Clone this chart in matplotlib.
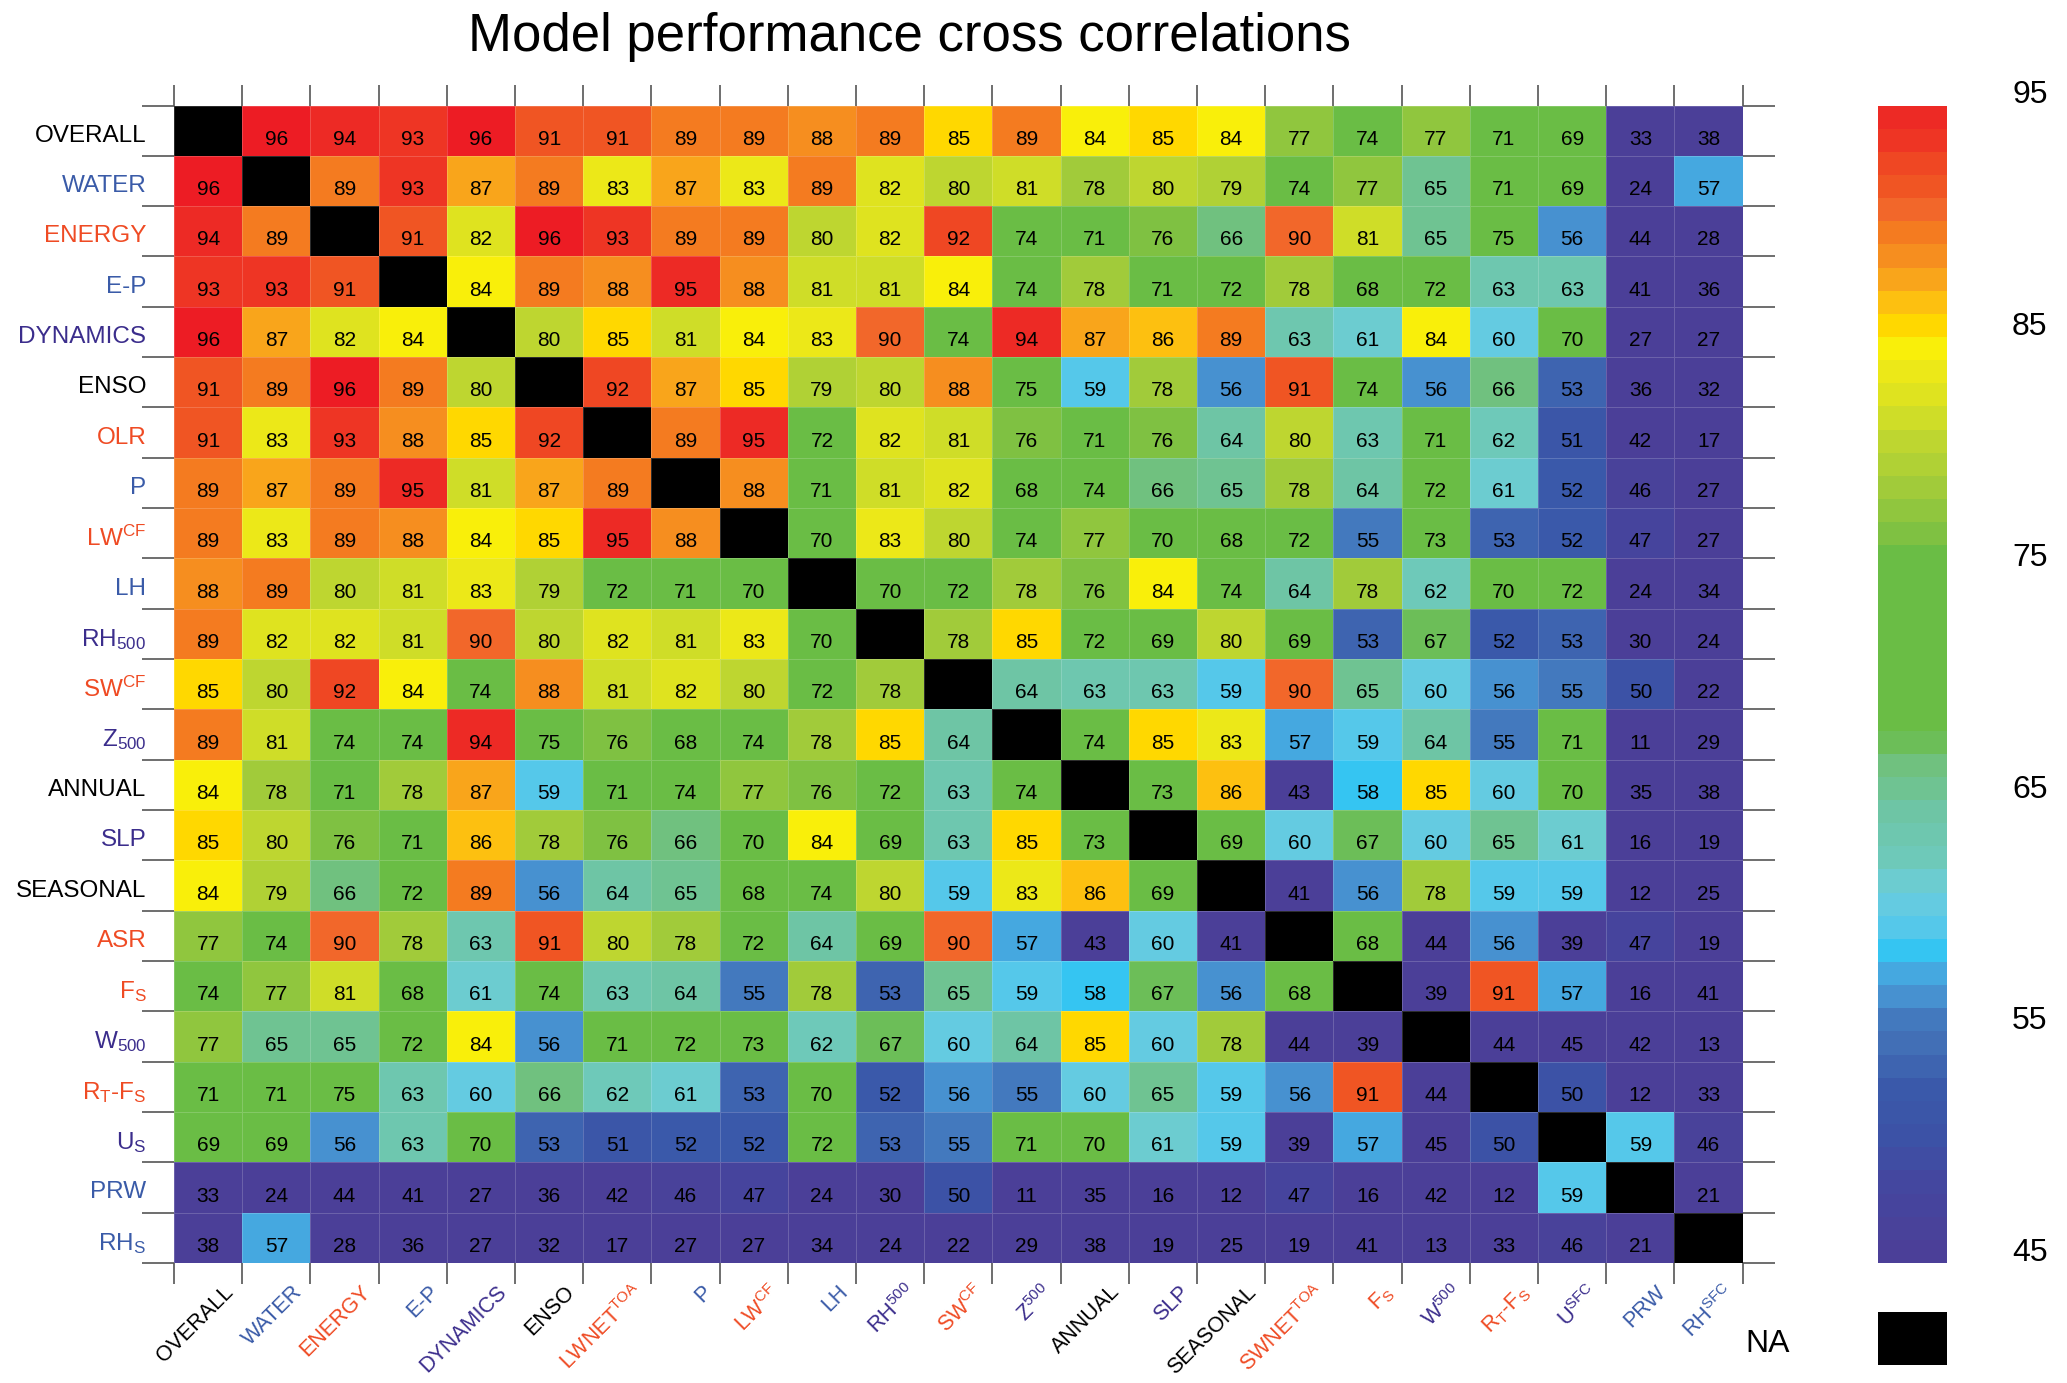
import numpy as np
import matplotlib.pyplot as plt
from matplotlib.colors import ListedColormap, Normalize, to_rgb
from matplotlib.cm import ScalarMappable
from matplotlib.patches import Rectangle
from matplotlib.transforms import blended_transform_factory

plt.rcParams['font.family'] = 'Liberation Sans'
plt.rcParams['mathtext.fontset'] = 'custom'
plt.rcParams['mathtext.rm'] = 'Liberation Sans'
plt.rcParams['mathtext.it'] = 'Liberation Sans:italic'
plt.rcParams['mathtext.bf'] = 'Liberation Sans:bold'

K, B, R, P = 'black', '#3a5ba8', '#ef4b24', '#3b2d8c'

row_labels = ['OVERALL', 'WATER', 'ENERGY', 'E-P', 'DYNAMICS', 'ENSO', 'OLR', 'P',
              r'LW$^{\mathrm{CF}}$', 'LH', r'RH$_{\mathrm{500}}$', r'SW$^{\mathrm{CF}}$',
              r'Z$_{\mathrm{500}}$', 'ANNUAL', 'SLP', 'SEASONAL', 'ASR', r'F$_{\mathrm{S}}$',
              r'W$_{\mathrm{500}}$', r'R$_{\mathrm{T}}$-F$_{\mathrm{S}}$', r'U$_{\mathrm{S}}$',
              'PRW', r'RH$_{\mathrm{S}}$']
col_labels = ['OVERALL', 'WATER', 'ENERGY', 'E-P', 'DYNAMICS', 'ENSO', r'LWNET$^{\mathrm{TOA}}$', 'P',
              r'LW$^{\mathrm{CF}}$', 'LH', r'RH$^{\mathrm{500}}$', r'SW$^{\mathrm{CF}}$',
              r'Z$^{\mathrm{500}}$', 'ANNUAL', 'SLP', 'SEASONAL', r'SWNET$^{\mathrm{TOA}}$',
              r'F$_{\mathrm{S}}$', r'W$^{\mathrm{500}}$', r'R$_{\mathrm{T}}$-F$_{\mathrm{S}}$',
              r'U$^{\mathrm{SFC}}$', 'PRW', r'RH$^{\mathrm{SFC}}$']
label_colors = [K, B, R, B, P, K, R, B, R, B, P, R, P, K, P, K, R, R, P, R, P, B, B]

NA = None
corr = [
    [NA, 96, 94, 93, 96, 91, 91, 89, 89, 88, 89, 85, 89, 84, 85, 84, 77, 74, 77, 71, 69, 33, 38],
    [96, NA, 89, 93, 87, 89, 83, 87, 83, 89, 82, 80, 81, 78, 80, 79, 74, 77, 65, 71, 69, 24, 57],
    [94, 89, NA, 91, 82, 96, 93, 89, 89, 80, 82, 92, 74, 71, 76, 66, 90, 81, 65, 75, 56, 44, 28],
    [93, 93, 91, NA, 84, 89, 88, 95, 88, 81, 81, 84, 74, 78, 71, 72, 78, 68, 72, 63, 63, 41, 36],
    [96, 87, 82, 84, NA, 80, 85, 81, 84, 83, 90, 74, 94, 87, 86, 89, 63, 61, 84, 60, 70, 27, 27],
    [91, 89, 96, 89, 80, NA, 92, 87, 85, 79, 80, 88, 75, 59, 78, 56, 91, 74, 56, 66, 53, 36, 32],
    [91, 83, 93, 88, 85, 92, NA, 89, 95, 72, 82, 81, 76, 71, 76, 64, 80, 63, 71, 62, 51, 42, 17],
    [89, 87, 89, 95, 81, 87, 89, NA, 88, 71, 81, 82, 68, 74, 66, 65, 78, 64, 72, 61, 52, 46, 27],
    [89, 83, 89, 88, 84, 85, 95, 88, NA, 70, 83, 80, 74, 77, 70, 68, 72, 55, 73, 53, 52, 47, 27],
    [88, 89, 80, 81, 83, 79, 72, 71, 70, NA, 70, 72, 78, 76, 84, 74, 64, 78, 62, 70, 72, 24, 34],
    [89, 82, 82, 81, 90, 80, 82, 81, 83, 70, NA, 78, 85, 72, 69, 80, 69, 53, 67, 52, 53, 30, 24],
    [85, 80, 92, 84, 74, 88, 81, 82, 80, 72, 78, NA, 64, 63, 63, 59, 90, 65, 60, 56, 55, 50, 22],
    [89, 81, 74, 74, 94, 75, 76, 68, 74, 78, 85, 64, NA, 74, 85, 83, 57, 59, 64, 55, 71, 11, 29],
    [84, 78, 71, 78, 87, 59, 71, 74, 77, 76, 72, 63, 74, NA, 73, 86, 43, 58, 85, 60, 70, 35, 38],
    [85, 80, 76, 71, 86, 78, 76, 66, 70, 84, 69, 63, 85, 73, NA, 69, 60, 67, 60, 65, 61, 16, 19],
    [84, 79, 66, 72, 89, 56, 64, 65, 68, 74, 80, 59, 83, 86, 69, NA, 41, 56, 78, 59, 59, 12, 25],
    [77, 74, 90, 78, 63, 91, 80, 78, 72, 64, 69, 90, 57, 43, 60, 41, NA, 68, 44, 56, 39, 47, 19],
    [74, 77, 81, 68, 61, 74, 63, 64, 55, 78, 53, 65, 59, 58, 67, 56, 68, NA, 39, 91, 57, 16, 41],
    [77, 65, 65, 72, 84, 56, 71, 72, 73, 62, 67, 60, 64, 85, 60, 78, 44, 39, NA, 44, 45, 42, 13],
    [71, 71, 75, 63, 60, 66, 62, 61, 53, 70, 52, 56, 55, 60, 65, 59, 56, 91, 44, NA, 50, 12, 33],
    [69, 69, 56, 63, 70, 53, 51, 52, 52, 72, 53, 55, 71, 70, 61, 59, 39, 57, 45, 50, NA, 59, 46],
    [33, 24, 44, 41, 27, 36, 42, 46, 47, 24, 30, 50, 11, 35, 16, 12, 47, 16, 42, 12, 59, NA, 21],
    [38, 57, 28, 36, 27, 32, 17, 27, 27, 34, 24, 22, 29, 38, 19, 25, 19, 41, 13, 33, 46, 21, NA],
]

# colour scale anchors (value -> colour)
cbar_levels = [45, 48, 50, 52, 54, 55.5, 56, 57, 57.8, 59, 60.5, 62, 64, 66, 67.5, 75, 76, 78,
               80, 82, 83.5, 84.5, 85, 86, 87, 88, 89, 90, 91, 92, 93, 94, 95]
cbar_colors = ['#4b3f98', '#44479f', '#3c52a6', '#3a59aa', '#426fb6', '#447ec2', '#4791d0',
               '#45a8e0', '#2ec4f4', '#55c8ea', '#6bcddc', '#6ec9b9', '#6ec5a5', '#70c17f',
               '#6abd45', '#6abd45', '#7fc142', '#a1cb3a', '#bed630', '#dfe31f',
               '#f3eb14', '#fff200', '#ffd800', '#fdc010', '#f9a51b', '#f68e1f', '#f47b20',
               '#f2672a', '#f05523', '#ef4723', '#ee3524', '#ed2a25', '#ed1c24']
cbar_ticks = [45, 55, 65, 75, 85, 95]

anchor_rgb = np.array([to_rgb(c) for c in cbar_colors])
def scale_colour(v):
    return [np.interp(v, cbar_levels, anchor_rgb[:, k]) for k in range(3)]

cmap = ListedColormap([scale_colour(v) for v in range(45, 95)])
cmap.set_bad('black')
cmap.set_under(scale_colour(45))
cmap.set_over(scale_colour(95))
norm = Normalize(45, 95)

n = len(row_labels)
vals = np.array([[np.nan if v is None else v for v in row] for row in corr], dtype=float)

fig = plt.figure(figsize=(20.67, 13.83), dpi=100)
ax = fig.add_axes([0.0842, 0.0868, 0.7589, 0.8369])
ax.set_facecolor('black')
ax.pcolormesh(np.ma.masked_invalid(vals), cmap=cmap, norm=norm,
              edgecolors=(1, 1, 1, 0.18), linewidth=0.6)
ax.set_xlim(0, n)
ax.set_ylim(n, 0)
for s in ax.spines.values():
    s.set_visible(False)

for i in range(n):
    for j in range(n):
        if not np.isnan(vals[i, j]):
            ax.text(j + 0.5, i + 0.67, f'{int(vals[i, j])}', ha='center', va='center',
                    fontsize=15, color='black')

# boundary ticks all round, labels on the cell centres
ax.set_xticks(np.arange(n + 1))
ax.set_yticks(np.arange(n + 1))
ax.tick_params(which='major', top=True, right=True, direction='out', color='#555555',
               width=1.2, labelbottom=False, labelleft=False)
ax.tick_params(axis='x', which='major', length=15)
ax.tick_params(axis='y', which='major', length=23)
ax.set_yticks(np.arange(n) + 0.55, minor=True)
ax.set_yticklabels(row_labels, minor=True, fontsize=17.5)
ax.tick_params(axis='y', which='minor', length=0, pad=20)
ax.tick_params(axis='x', which='minor', length=0, labelbottom=False)
for lab, c in zip(ax.get_yticklabels(minor=True), label_colors):
    lab.set_color(c)

trans = blended_transform_factory(ax.transData, ax.transAxes)
for j, (lab, c) in enumerate(zip(col_labels, label_colors)):
    ax.text(j + 0.72, -0.016, lab, transform=trans, rotation=45, rotation_mode='anchor',
            ha='right', va='top', fontsize=15.5, color=c)

fig.text(0.44, 0.973, 'Model performance cross correlations', ha='center', va='center',
         fontsize=38)

# colour bar
cax = fig.add_axes([0.9088, 0.0868, 0.0332, 0.8369])
cb = fig.colorbar(ScalarMappable(norm=norm, cmap=cmap), cax=cax)
cb.set_ticks([])
cb.outline.set_visible(False)
tlab = blended_transform_factory(fig.transFigure, cax.transData)
for v in cbar_ticks:
    fig.text(0.982, v + 0.45, str(v), transform=tlab, ha='center', va='center', fontsize=23)

fig.add_artist(Rectangle((0.9088, 0.0133), 0.0332, 0.0382, transform=fig.transFigure,
                         facecolor='black', edgecolor='none'))
fig.text(0.855, 0.028, 'NA', ha='center', va='center', fontsize=23)

fig.savefig('out.png', dpi=100)
